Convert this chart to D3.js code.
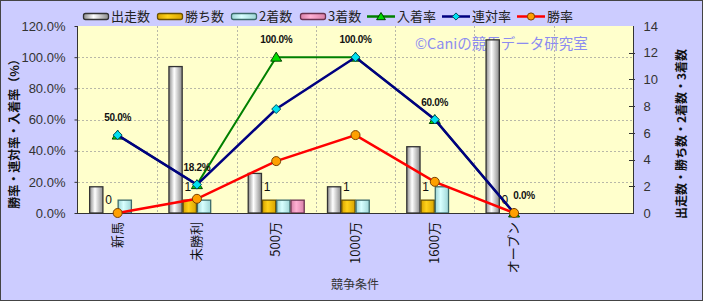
<!DOCTYPE html>
<html>
<head>
<meta charset="utf-8">
<script src="https://cdn.jsdelivr.net/npm/d3@7"></script>
<style>
  body { margin: 0; background: #fff; }
  text { font-family: "Noto Sans CJK JP", "DejaVu Sans", sans-serif; }
</style>
</head>
<body>
<div id="chart"></div>
<script>
// data
var categories = ['新馬', '未勝利', '500万', '1000万', '1600万', 'オープン'];
var starts = [2, 11, 3, 2, 5, 13];
var wins = [0, 1, 1, 1, 1, 0];
var seconds = [1, 1, 1, 1, 2, 0];
var thirds = [0, 0, 1, 0, 0, 0];
var winRate = [0, 9.1, 33.3, 50, 20, 0];
var rentaiRate = [50, 18.2, 66.7, 100, 60, 0];
var placeRate = [50, 18.2, 100, 100, 60, 0];
var leftTicks = [0, 20, 40, 60, 80, 100, 120];
var rightTicks = [0, 2, 4, 6, 8, 10, 12, 14];

var W = 703, H = 301;
var plot = {left: 78, right: 633, top: 26, bottom: 213};

var svg = d3.select('#chart').append('svg')
  .attr('width', W).attr('height', H);

// cylinder-ish shading for the bars
var defs = svg.append('defs');
function cyl(id, edge, mid) {
  var g = defs.append('linearGradient').attr('id', id)
    .attr('x1', 0).attr('x2', 1).attr('y1', 0).attr('y2', 0);
  g.append('stop').attr('offset', '0%').attr('stop-color', edge);
  g.append('stop').attr('offset', '40%').attr('stop-color', mid);
  g.append('stop').attr('offset', '100%').attr('stop-color', edge);
}
cyl('gStart', '#8c8c8c', '#ffffff');
cyl('gWin', '#d9a400', '#ffd21a');
cyl('gSecond', '#9ed6d6', '#d8ffff');
cyl('gThird', '#d980a8', '#ffb0d4');

// background
svg.append('rect').attr('x', 0.5).attr('y', 0.5).attr('width', W - 1).attr('height', H - 1)
  .attr('fill', '#ccccff').attr('stroke', '#444');
svg.append('rect').attr('x', plot.left).attr('y', plot.top)
  .attr('width', plot.right - plot.left).attr('height', plot.bottom - plot.top)
  .attr('fill', '#ffffcc');

// scales (7 slots, the last one is empty)
var slots = categories.concat(['']);
var x = d3.scaleBand().domain(d3.range(slots.length)).range([plot.left, plot.right]);
var series = ['start', 'win', 'second', 'third'];
var xs = d3.scaleBand().domain(series).range([-28.5, 28.5]);
var yL = d3.scaleLinear().domain([0, 120]).range([plot.bottom, plot.top]);
var yR = d3.scaleLinear().domain([0, 14]).range([plot.bottom, plot.top]);
var cxOf = function(i) { return x(i) + x.bandwidth() / 2; };

// grid
var grid = svg.append('g').attr('stroke', '#b8b8a8').attr('stroke-dasharray', '2,2');
leftTicks.slice(1, -1).forEach(function(t) {
  grid.append('line').attr('x1', plot.left).attr('x2', plot.right)
    .attr('y1', Math.round(yL(t)) + 0.5).attr('y2', Math.round(yL(t)) + 0.5);
});
d3.range(1, slots.length).forEach(function(i) {
  var gx = Math.round(x(i)) + 0.5;
  grid.append('line').attr('x1', gx).attr('x2', gx).attr('y1', plot.top).attr('y2', plot.bottom);
});

// watermark
svg.append('text').attr('x', 415).attr('y', 49)
  .attr('font-size', 14.5).attr('fill', '#8c8cf0')
  .text('©Caniの競馬データ研究室');

// bars
var barData = [
  {key: 'start', vals: starts, fill: 'url(#gStart)', stroke: '#333'},
  {key: 'win', vals: wins, fill: 'url(#gWin)', stroke: '#6b5200'},
  {key: 'second', vals: seconds, fill: 'url(#gSecond)', stroke: '#3d6b6b'},
  {key: 'third', vals: thirds, fill: 'url(#gThird)', stroke: '#6b3350'}
];
var barG = svg.append('g');
barData.forEach(function(s) {
  s.vals.forEach(function(v, i) {
    if (v <= 0) return;
    barG.append('rect')
      .attr('x', cxOf(i) + xs(s.key) + 0.5)
      .attr('y', yR(v) + 0.5)
      .attr('width', xs.bandwidth() - 1)
      .attr('height', yR(0) - yR(v) - 0.5)
      .attr('fill', s.fill).attr('stroke', s.stroke).attr('stroke-width', 1.3);
  });
});
// win-count labels
wins.forEach(function(v, i) {
  svg.append('text').attr('x', cxOf(i) + xs('win') + xs.bandwidth() / 2 - 2).attr('y', yR(v) - 9)
    .attr('text-anchor', 'middle').attr('font-size', 12).attr('fill', '#111')
    .style('font-family', '"Liberation Sans", sans-serif')
    .text(v);
});

// axis lines
var axisC = '#333';
svg.append('line').attr('x1', plot.left - 0.5).attr('x2', plot.left - 0.5)
  .attr('y1', plot.top).attr('y2', plot.bottom).attr('stroke', axisC);
svg.append('line').attr('x1', plot.right + 0.5).attr('x2', plot.right + 0.5)
  .attr('y1', plot.top).attr('y2', plot.bottom).attr('stroke', axisC);
svg.append('line').attr('x1', plot.left - 1).attr('x2', plot.right + 1)
  .attr('y1', plot.bottom + 0.5).attr('y2', plot.bottom + 0.5).attr('stroke', axisC);

// left axis
var gl = svg.append('g').attr('transform', 'translate(' + (plot.left - 0.5) + ',0)')
  .call(d3.axisLeft(yL).tickValues(leftTicks).tickSize(3).tickPadding(9)
    .tickFormat(function(d) { return d.toFixed(1) + '%'; }));
gl.select('.domain').remove();
gl.selectAll('text').attr('font-size', 13).attr('fill', '#333')
  .style('font-family', '"Liberation Sans", sans-serif');
gl.selectAll('line').attr('stroke', axisC);

// right axis
var gr = svg.append('g').attr('transform', 'translate(' + (plot.right + 0.5) + ',0)')
  .call(d3.axisRight(yR).tickValues(rightTicks).tickSize(0).tickPadding(10));
gr.select('.domain').remove();
gr.selectAll('text').attr('font-size', 13).attr('fill', '#333')
  .style('font-family', '"Liberation Sans", sans-serif');
rightTicks.slice(1, -1).forEach(function(t) {
  svg.append('line').attr('x1', plot.right - 4).attr('x2', plot.right + 2)
    .attr('y1', Math.round(yR(t)) + 0.5).attr('y2', Math.round(yR(t)) + 0.5).attr('stroke', axisC);
});

// x labels
categories.forEach(function(c, i) {
  svg.append('text')
    .attr('transform', 'translate(' + (cxOf(i) + 4) + ',' + (plot.bottom + 9) + ') rotate(-90)')
    .attr('text-anchor', 'end').attr('font-size', 13).attr('fill', '#111')
    .text(c);
});

// titles
svg.append('text').attr('x', 355).attr('y', 289).attr('text-anchor', 'middle')
  .attr('font-size', 12).attr('fill', '#333').text('競争条件');
svg.append('text').attr('transform', 'translate(19,131) rotate(-90)')
  .attr('text-anchor', 'middle').attr('font-size', 12).attr('font-weight', 'bold').attr('fill', '#111')
  .text('勝率・連対率・入着率（%）');
svg.append('text').attr('transform', 'translate(686,134) rotate(-90)')
  .attr('text-anchor', 'middle').attr('font-size', 12).attr('font-weight', 'bold').attr('fill', '#111')
  .text('出走数・勝ち数・2着数・3着数');

// lines
var line = d3.line().x(function(d, i) { return cxOf(i); }).y(function(d) { return yL(d); });

function drawSeries(vals, color, width, marker) {
  svg.append('path').datum(vals).attr('d', line)
    .attr('fill', 'none').attr('stroke', color).attr('stroke-width', width);
  vals.forEach(function(v, i) { marker(svg, cxOf(i), yL(v), 1); });
}
function triangle(g, px, py, s) {
  g.append('path').attr('d', 'M' + px + ',' + (py - 5 * s) + 'L' + (px + 5.5 * s) + ',' + (py + 4 * s) + 'L' + (px - 5.5 * s) + ',' + (py + 4 * s) + 'Z')
    .attr('fill', '#00dd00').attr('stroke', '#004000').attr('stroke-width', 1);
}
function diamond(g, px, py, s) {
  g.append('path').attr('d', 'M' + px + ',' + (py - 4.5 * s) + 'L' + (px + 4.5 * s) + ',' + py + 'L' + px + ',' + (py + 4.5 * s) + 'L' + (px - 4.5 * s) + ',' + py + 'Z')
    .attr('fill', '#00e0f0').attr('stroke', '#005060').attr('stroke-width', 1);
}
function dot(g, px, py, s) {
  g.append('circle').attr('cx', px).attr('cy', py).attr('r', 4.5 * s)
    .attr('fill', '#ffa000').attr('stroke', '#7a4000').attr('stroke-width', 1);
}
drawSeries(placeRate, '#008000', 2, triangle);
drawSeries(rentaiRate, '#000080', 2.5, diamond);
drawSeries(winRate, '#ff0000', 2.5, dot);

// rate labels
placeRate.forEach(function(v, i) {
  svg.append('text').attr('x', cxOf(i) + (i === 5 ? 10 : 0)).attr('y', yL(v) - 14)
    .attr('text-anchor', 'middle').attr('font-size', 10).attr('font-weight', 'bold')
    .attr('fill', '#111').attr('letter-spacing', -0.3)
    .style('font-family', '"Liberation Sans", sans-serif')
    .text(v.toFixed(1) + '%');
});

// legend
var lg = svg.append('g').attr('font-size', 13);
var boxItems = [
  {x: 83, label: '出走数', fill: 'url(#gStart)', stroke: '#333'},
  {x: 157, label: '勝ち数', fill: 'url(#gWin)', stroke: '#6b5200'},
  {x: 231, label: '2着数', fill: 'url(#gSecond)', stroke: '#3d6b6b'},
  {x: 300, label: '3着数', fill: 'url(#gThird)', stroke: '#6b3350'}
];
boxItems.forEach(function(b) {
  lg.append('rect').attr('x', b.x + 0.5).attr('y', 13.5).attr('width', 25).attr('height', 6)
    .attr('rx', 2).attr('fill', b.fill).attr('stroke', b.stroke).attr('stroke-width', 1.3);
  lg.append('text').attr('x', b.x + 28).attr('y', 21).attr('fill', '#222').text(b.label);
});
var lineItems = [
  {x: 367, label: '入着率', color: '#008000', marker: triangle},
  {x: 442, label: '連対率', color: '#000080', marker: diamond},
  {x: 517, label: '勝率', color: '#ff0000', marker: dot}
];
lineItems.forEach(function(b) {
  lg.append('line').attr('x1', b.x).attr('x2', b.x + 28).attr('y1', 16.5).attr('y2', 16.5)
    .attr('stroke', b.color).attr('stroke-width', 2.5);
  b.marker(lg, b.x + 14, 16.5, 0.8);
  lg.append('text').attr('x', b.x + 30).attr('y', 21).attr('fill', '#222').text(b.label);
});
</script>
</body>
</html>
